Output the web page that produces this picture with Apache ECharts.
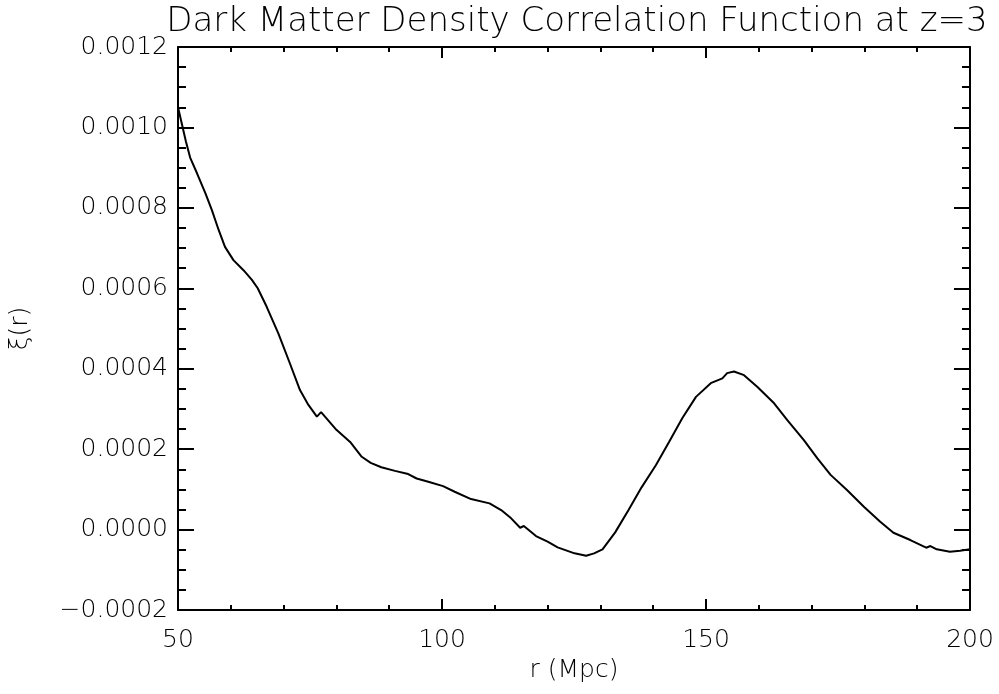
<!DOCTYPE html>
<html>
<head>
<meta charset="utf-8">
<script src="https://cdn.jsdelivr.net/npm/echarts@6/dist/echarts.min.js"></script>
<style>html,body{margin:0;padding:0;background:#fff}#c{width:999px;height:694px}</style>
</head>
<body>
<div id="c"></div>
<script>
var titleText = 'Dark Matter Density Correlation Function at z=3';
var xName = 'r (Mpc)';
var yName = 'ξ(r)';
var rVals = [50, 50.8, 51.5, 52.3, 53.6, 55.2, 56.4, 57.7, 58.9, 60.5, 62.4, 64.0, 65.1, 66.8, 69.0, 71.2, 73.1, 74.7, 76.3, 77.1, 80.0, 82.6, 84.8, 86.5, 88.5, 91.1, 93.6, 95.2, 97.4, 100.2, 102.4, 105.5, 109.0, 111.2, 113.1, 114.8, 115.5, 117.8, 120.0, 121.9, 125.1, 127.3, 128.8, 130.4, 132.8, 135.3, 137.8, 140.5, 143.0, 145.5, 148.1, 150.9, 153.1, 154.0, 155.3, 157.2, 159.7, 162.9, 165.4, 168.5, 171.1, 173.6, 176.7, 179.9, 183.0, 185.5, 188.7, 191.7, 192.5, 193.7, 196.2, 198.1, 200];
var xiVals = [0.00105, 0.001005, 0.000965, 0.000925, 0.000886, 0.000836, 0.000795, 0.000745, 0.000703, 0.00067, 0.000645, 0.000621, 0.0006, 0.000554, 0.000488, 0.000413, 0.000347, 0.00031, 0.000281, 0.000292, 0.000248, 0.000218, 0.000181, 0.000166, 0.000155, 0.000146, 0.000138, 0.000127, 0.000119, 0.000108, 0.0000941, 0.0000759, 0.0000652, 0.0000486, 0.0000279, 0.0000046, 0.0000088, -0.0000161, -0.0000302, -0.0000442, -0.0000591, -0.0000651, -0.0000591, -0.0000491, -0.0000070, 0.0000480, 0.000105, 0.00016, 0.000218, 0.000277, 0.00033, 0.000364, 0.000376, 0.000389, 0.000393, 0.000384, 0.000355, 0.000314, 0.000272, 0.000223, 0.000177, 0.000136, 0.0000983, 0.0000569, 0.0000195, -0.0000078, -0.000026, -0.0000451, -0.0000409, -0.0000491, -0.0000551, -0.0000526, -0.0000491];
var xMin = 50, xMax = 200, xStep = 50;
var yMin = -0.0002, yMax = 0.0012, yStep = 0.0002;

var data = rVals.map(function (r, i) { return [r, xiVals[i]]; });
var font = 'DejaVu Sans';
var lineStyle = { color: '#000', width: 2 };

function xAxis(pos, show) {
  return {
    type: 'value', position: pos, min: xMin, max: xMax, interval: xStep,
    axisLine: { show: true, onZero: false, lineStyle: lineStyle },
    axisTick: { show: true, inside: true, length: 11, lineStyle: { color: '#000', width: 2 } },
    minorTick: { show: true, splitNumber: 5, length: 5, lineStyle: { color: '#000', width: 2 } },
    splitLine: { show: false },
    axisLabel: { show: show, color: '#000', fontFamily: font, fontSize: 25, fontWeight: 300, margin: 18 },
    name: show ? xName : '', nameLocation: 'middle', nameGap: 46,
    nameTextStyle: { color: '#000', fontFamily: font, fontSize: 25, fontWeight: 300 }
  };
}
function yAxis(pos, show) {
  return {
    type: 'value', position: pos, min: yMin, max: yMax, interval: yStep,
    axisLine: { show: true, onZero: false, lineStyle: lineStyle },
    axisTick: { show: true, inside: true, length: 16, lineStyle: { color: '#000', width: 2 } },
    minorTick: { show: true, splitNumber: 4, length: 8, lineStyle: { color: '#000', width: 2 } },
    splitLine: { show: false },
    axisLabel: {
      show: show, color: '#000', fontFamily: font, fontSize: 25, fontWeight: 300, margin: 10,
      formatter: function (v) { var s = Math.abs(v).toFixed(4); return (v < -1e-12 ? '\u2212' : '') + s; }
    },
    name: show ? yName : '', nameLocation: 'middle', nameGap: 145, nameRotate: 90,
    nameTextStyle: { color: '#000', fontFamily: font, fontSize: 25, fontWeight: 300 }
  };
}

var chart = echarts.init(document.getElementById('c'), null, { renderer: 'canvas' });
chart.setOption({
  backgroundColor: '#fff',
  animation: false,
  title: {
    text: titleText, left: 572, top: 0, textAlign: 'center',
    textStyle: { color: '#000', fontFamily: font, fontSize: 34, fontWeight: 300 }
  },
  grid: { left: 176, right: 29, top: 47, bottom: 84, containLabel: false },
  xAxis: [xAxis('bottom', true), xAxis('top', false)],
  yAxis: [yAxis('left', true), yAxis('right', false)],
  series: [{
    type: 'line', data: data, xAxisIndex: 0, yAxisIndex: 0,
    showSymbol: false, smooth: false,
    lineStyle: { color: '#000', width: 2 }
  }]
});
</script>
</body>
</html>
